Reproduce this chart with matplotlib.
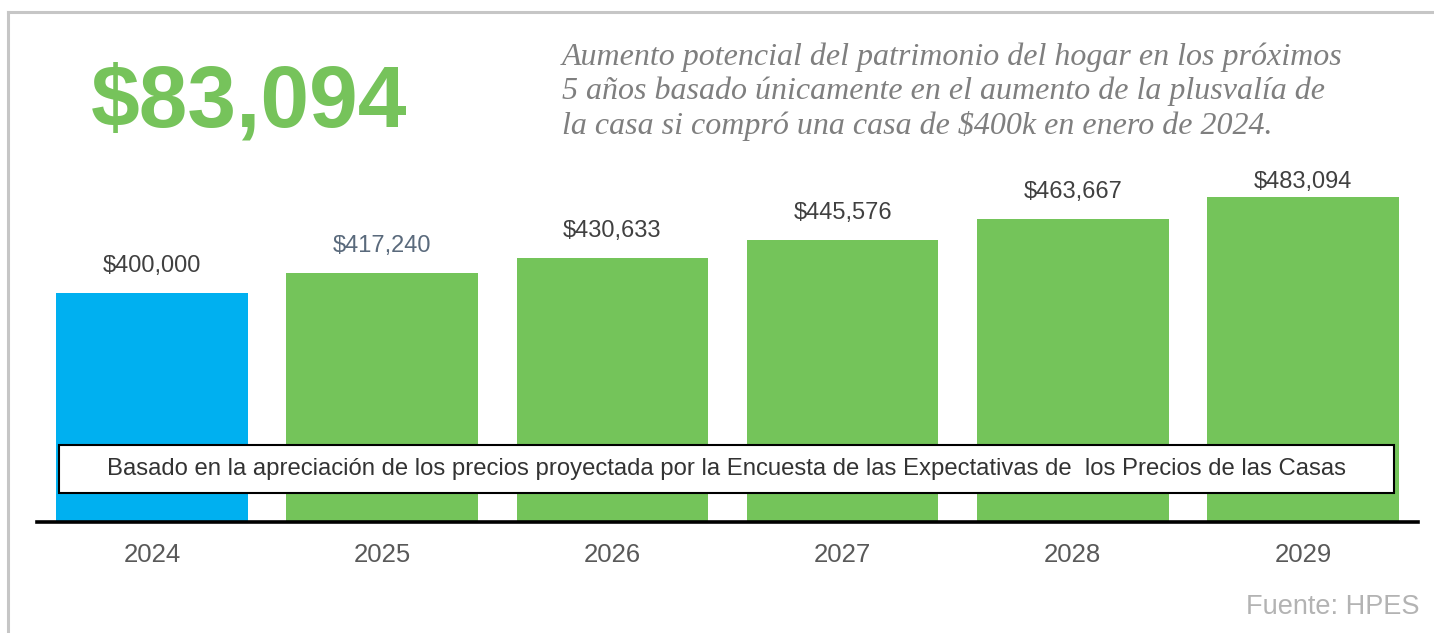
import matplotlib.pyplot as plt
from matplotlib.patches import Rectangle
from matplotlib.lines import Line2D

# Data
years = ["2024", "2025", "2026", "2027", "2028", "2029"]
values = [400000, 417240, 430633, 445576, 463667, 483094]
value_labels = ["$400,000", "$417,240", "$430,633", "$445,576", "$463,667", "$483,094"]
bar_colors = ["#00b0f0", "#74c45a", "#74c45a", "#74c45a", "#74c45a", "#74c45a"]
label_colors = ["#404040", "#5a6a7c", "#404040", "#404040", "#404040", "#404040"]
gain_text = "$83,094"
subtitle = ("Aumento potencial del patrimonio del hogar en los próximos\n"
            "5 años basado únicamente en el aumento de la plusvalía de\n"
            "la casa si compró una casa de $400k en enero de 2024.")
note = ("Basado en la apreciación de los precios proyectada por la Encuesta "
        "de las Expectativas de  los Precios de las Casas")
source = "Fuente: HPES"

W, H = 1434, 633
fig = plt.figure(figsize=(W / 100, H / 100), dpi=100)
fig.patch.set_facecolor("white")

# axes placed in pixel terms of the reference
ax = fig.add_axes([37 / W, 1 - 522 / H, (1418 - 37) / W, (522 - 160) / H])
ax.bar(range(len(years)), values, width=0.833, color=bar_colors, zorder=2)
ax.set_xlim(-0.5, len(years) - 0.5)
ax.set_ylim(201800, 515100)

for i, (v, lab) in enumerate(zip(values, value_labels)):
    off = 27 if i < len(values) - 1 else 15
    ax.annotate(lab, (i, v), xytext=(0, off * 0.72), textcoords="offset points",
                ha="center", va="center", fontsize=17, color=label_colors[i],
                family="Liberation Sans")

ax.set_xticks(range(len(years)))
ax.set_xticklabels(years, fontsize=18.5, color="#595959", family="Liberation Sans")
ax.tick_params(axis="x", length=0, pad=15)
ax.set_yticks([])
for s in ["top", "left", "right"]:
    ax.spines[s].set_visible(False)
ax.spines["bottom"].set_linewidth(2.6)
ax.spines["bottom"].set_color("black")
ax.spines["bottom"].set_zorder(3)

# outer grey frame (left and top edges only visible)
fig.add_artist(Line2D([8 / W, 8 / W], [0, 1 - 12 / H], color="#c6c6c6", lw=2.2))
fig.add_artist(Line2D([8 / W, 1], [1 - 12 / H, 1 - 12 / H], color="#c6c6c6", lw=2.2))

# headline number
fig.text(249 / W, 1 - 126 / H, gain_text, ha="center", va="baseline", fontsize=63,
         fontweight="bold", color="#76c35b", family="Liberation Sans")

fig.text(562 / W, 1 - 92 / H, subtitle, ha="left", va="center", fontsize=23,
         style="italic", color="#7f7f7f", family="Liberation Serif",
         linespacing=1.2)

# note box over the bars
fig.add_artist(Rectangle((59 / W, 1 - 493 / H), (1394 - 59) / W, (493 - 445) / H,
                         transform=fig.transFigure, facecolor="white",
                         edgecolor="black", lw=1.5, zorder=4))
fig.text(726 / W, 1 - 469 / H, note, ha="center", va="center", fontsize=17.2,
         color="#333333", family="Liberation Sans", zorder=5)

fig.text(1420 / W, 1 - 607 / H, source, ha="right", va="center", fontsize=19.5,
         color="#b3b3b3", family="Liberation Sans")

fig.savefig("out.png", dpi=100)
